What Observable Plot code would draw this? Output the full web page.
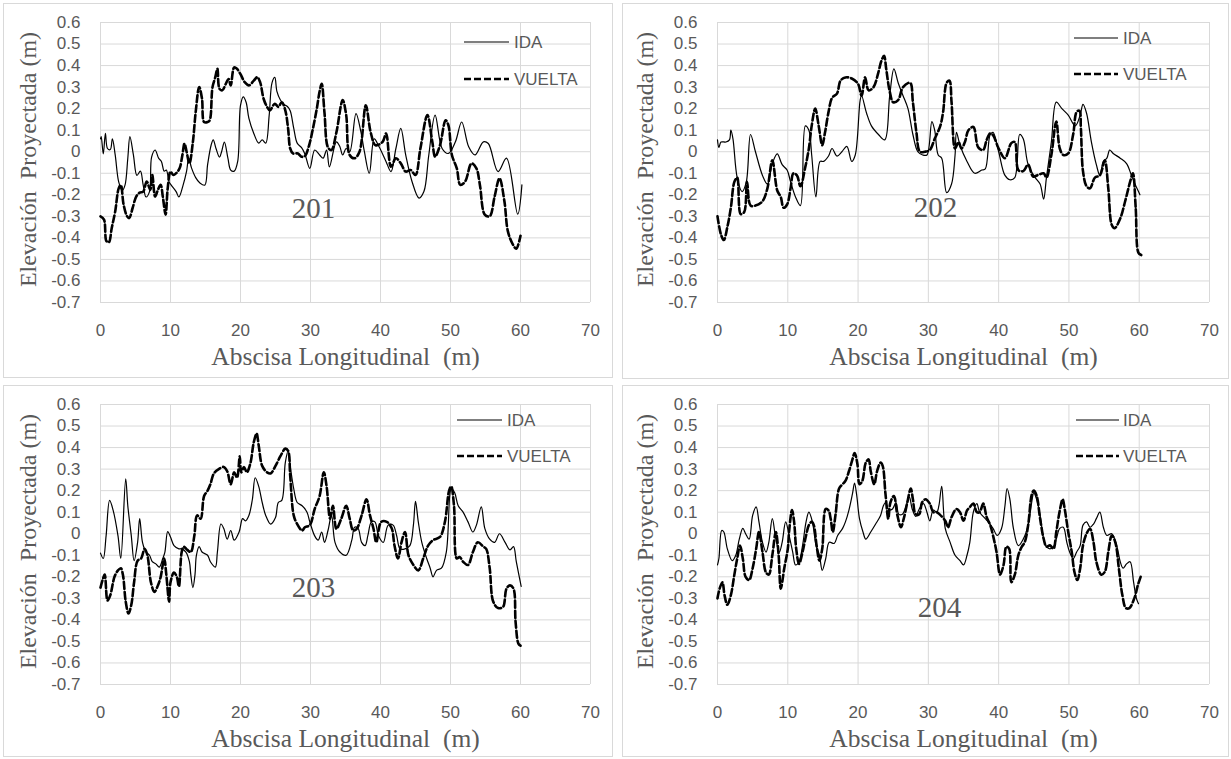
<!DOCTYPE html>
<html>
<head>
<meta charset="utf-8">
<script src="https://cdn.jsdelivr.net/npm/d3@7"></script>
<script src="https://cdn.jsdelivr.net/npm/@observablehq/plot@0.6"></script>
<style>
  body { margin: 0; background: #fff; }
  #page { position: relative; width: 1231px; height: 759px; overflow: hidden; background: #fff; }
  .frame { position: absolute; box-sizing: border-box; border: 1px solid #d9d9d9; }
  .chart { position: absolute; }
</style>
</head>
<body>
<div id="page"></div>
<script>
// ---------- tick values / labels ----------
const xTicks = [0, 10, 20, 30, 40, 50, 60, 70];
const yTicks = [-0.7, -0.6, -0.5, -0.4, -0.3, -0.2, -0.1, 0, 0.1, 0.2, 0.3, 0.4, 0.5, 0.6];
const seriesNames = ["IDA", "VUELTA"];
const panelLabels = ["201", "202", "203", "204"];
const xTitle = "Abscisa Longitudinal  (m)";
const yTitle = "Elevación  Proyectada (m)";

// ---------- series (abscisa m, elevación m) ----------
const ida201 = [[0,0.06],[0.1,0.07],[0.4,-0.01],[0.7,0.085],[1.0,0.015],[1.4,0.01],[1.7,0.06],[2.1,-0.015],[2.6,-0.14],[3.1,-0.18],[3.5,-0.155],[3.9,-0.03],[4.2,0.07],[4.7,-0.015],[5.2,-0.11],[5.7,-0.09],[6.1,-0.155],[6.5,-0.21],[7.0,-0.185],[7.3,-0.025],[7.8,0.008],[8.3,-0.03],[8.7,-0.045],[9.1,-0.09],[9.4,-0.085],[9.8,-0.14],[10.1,-0.155],[10.8,-0.185],[11.2,-0.21],[11.8,-0.155],[12.3,-0.09],[12.6,-0.03],[13.0,-0.075],[13.6,-0.12],[14.2,-0.145],[14.9,-0.155],[15.3,-0.06],[15.8,0.03],[16.1,0.055],[16.5,0.015],[17.0,-0.025],[17.3,0.0],[17.7,0.045],[18.2,-0.03],[18.6,-0.085],[19.1,-0.09],[19.6,-0.045],[20.0,0.215],[20.4,0.255],[20.8,0.23],[21.2,0.155],[21.9,0.085],[22.6,0.04],[23.1,0.055],[23.6,0.04],[24.1,0.17],[24.5,0.32],[24.9,0.345],[25.2,0.28],[25.7,0.24],[26.2,0.22],[26.7,0.21],[27.1,0.19],[27.6,0.11],[28.1,0.04],[28.7,0.02],[29.2,-0.01],[29.9,-0.077],[30.6,0.008],[31.3,-0.015],[31.8,-0.03],[32.3,0.008],[32.7,-0.07],[33.7,0.046],[34.2,0.023],[34.6,-0.015],[35.1,0.015],[35.6,0],[36.5,0.177],[37.2,0.092],[37.7,0.0],[38.4,-0.1],[39.1,0.06],[39.8,0.023],[40.8,-0.046],[41.5,-0.092],[42.2,0.015],[42.9,0.108],[43.6,-0.015],[44.5,-0.138],[45.5,-0.215],[46.2,-0.185],[46.9,-0.015],[47.8,0.17],[48.8,0.015],[49.7,-0.008],[50.7,0.046],[51.6,0.138],[52.6,0.023],[53.5,-0.015],[54.7,0.046],[55.4,0.038],[56.8,-0.092],[58.0,-0.03],[59.6,-0.29],[60.2,-0.154]];
const vuelta201 = [[0,-0.3],[0.5,-0.315],[0.85,-0.415],[1.2,-0.42],[1.6,-0.355],[2.1,-0.277],[2.6,-0.17],[2.9,-0.155],[3.3,-0.246],[3.8,-0.3],[4.1,-0.308],[4.6,-0.26],[5.1,-0.208],[5.6,-0.19],[6.1,-0.185],[6.6,-0.138],[7.1,-0.177],[7.4,-0.108],[7.8,-0.208],[8.2,-0.177],[8.6,-0.154],[8.9,-0.208],[9.3,-0.292],[9.6,-0.17],[10.0,-0.092],[10.4,-0.108],[10.8,-0.1],[11.3,-0.077],[11.7,-0.015],[12.0,0.038],[12.3,0.0],[12.7,-0.054],[13.2,0.046],[13.6,0.185],[14.1,0.3],[14.5,0.246],[14.8,0.138],[15.3,0.138],[15.6,0.146],[16.0,0.3],[16.4,0.346],[16.7,0.385],[17.0,0.292],[17.4,0.285],[17.9,0.315],[18.3,0.338],[18.6,0.308],[19.1,0.392],[19.5,0.385],[20.0,0.36],[20.6,0.323],[21.2,0.308],[21.9,0.33],[22.4,0.346],[22.8,0.323],[23.3,0.246],[23.8,0.208],[24.2,0.192],[24.9,0.223],[25.4,0.208],[25.9,0.23],[26.4,0.192],[26.8,0.108],[27.1,0.015],[27.5,-0.008],[28.2,-0.008],[28.7,-0.023],[29.2,-0.02],[29.8,0.03],[30.3,0.1],[30.9,0.2],[31.3,0.28],[31.6,0.315],[32.0,0.18],[32.5,0.02],[33.0,0.008],[33.7,0.09],[34.6,0.24],[35.1,0.17],[35.6,-0.015],[36.3,-0.03],[37.0,0.0],[37.9,0.215],[38.6,0.09],[39.3,0.03],[40.3,0.046],[40.8,0.085],[41.5,-0.07],[42.2,-0.03],[42.9,-0.054],[43.6,-0.092],[44.3,-0.085],[45.0,-0.108],[45.7,0.015],[46.7,0.17],[47.4,0.046],[47.8,-0.023],[48.5,0.03],[49.3,0.146],[49.7,0.123],[50.2,-0.015],[50.9,-0.077],[51.4,-0.154],[52.1,-0.138],[53.0,-0.054],[53.7,-0.077],[54.2,-0.154],[54.9,-0.292],[55.6,-0.3],[56.3,-0.208],[57.0,-0.123],[57.7,-0.23],[58.2,-0.37],[58.9,-0.43],[59.4,-0.45],[60.0,-0.39]];

const ida202 = [[0,0.055],[0.2,0.02],[0.5,0.045],[1.2,0.045],[1.7,0.055],[1.9,0.1],[2.2,0.06],[2.8,-0.12],[3.5,-0.185],[4.1,-0.14],[4.7,0.08],[5.4,0],[6.4,-0.11],[7.1,-0.15],[7.8,-0.055],[8.5,-0.01],[9.2,-0.06],[9.9,-0.085],[10.4,-0.14],[11.1,-0.21],[11.8,-0.25],[12.5,0.12],[13.0,0.1],[13.4,-0.015],[14.0,-0.21],[14.6,-0.045],[15.1,-0.045],[15.8,-0.02],[16.3,0.015],[17.0,-0.02],[17.7,0],[18.4,0.025],[19.1,-0.045],[19.6,-0.015],[20.3,0.24],[20.5,0.26],[21.2,0.18],[21.9,0.12],[22.9,0.08],[23.8,0.055],[24.5,0.26],[25.1,0.385],[25.7,0.32],[26.4,0.26],[27.1,0.2],[27.8,0.08],[28.5,0],[29.2,-0.015],[29.8,-0.015],[30.5,0.14],[30.9,0.1],[31.4,-0.015],[31.9,-0.03],[32.6,-0.19],[33.3,-0.15],[33.8,-0.015],[34.0,0.09],[34.5,0.03],[35.5,-0.045],[36.6,-0.1],[37.6,-0.085],[38.1,-0.08],[38.8,0.08],[39.2,0.09],[40,0],[40.9,-0.11],[41.6,-0.13],[42.3,-0.12],[43.0,0.08],[43.5,0.06],[44.2,-0.06],[45.2,-0.12],[45.9,-0.15],[46.4,-0.22],[46.8,-0.12],[47.5,0.045],[48.2,0.23],[49.0,0.2],[49.9,0.17],[50.9,0.12],[51.6,0.17],[52.0,0.22],[52.5,0.18],[53.2,0.045],[53.9,-0.06],[54.4,-0.11],[54.9,-0.045],[55.4,-0.03],[55.8,0.008],[56.3,-0.008],[57.3,-0.03],[58.2,-0.055],[58.9,-0.11],[59.4,-0.15],[59.9,-0.185],[60.1,-0.2]];
const vuelta202 = [[0,-0.3],[0.5,-0.385],[0.9,-0.41],[1.4,-0.35],[1.9,-0.26],[2.4,-0.14],[2.8,-0.12],[3.3,-0.29],[3.8,-0.28],[4.2,-0.14],[4.7,-0.25],[5.4,-0.25],[6.4,-0.23],[7.1,-0.17],[7.8,-0.04],[8.5,-0.18],[9.0,-0.21],[9.4,-0.26],[9.9,-0.245],[10.4,-0.17],[10.8,-0.1],[11.3,-0.11],[11.8,-0.16],[12.5,-0.07],[13.0,0.015],[13.4,0.12],[13.9,0.2],[14.4,0.12],[14.9,0.03],[15.3,0.09],[15.8,0.185],[16.3,0.25],[17.0,0.27],[17.5,0.33],[18.2,0.345],[19.1,0.34],[20.0,0.315],[20.5,0.26],[21.0,0.345],[21.5,0.285],[22.2,0.3],[22.9,0.37],[23.3,0.42],[23.7,0.445],[24.0,0.385],[24.5,0.28],[25.0,0.23],[25.7,0.24],[26.4,0.3],[27.4,0.32],[27.8,0.23],[28.3,0.09],[28.8,0.0],[29.5,0.0],[30.2,0.008],[30.9,0.06],[31.7,0.12],[32.1,0.185],[32.6,0.32],[33.0,0.33],[33.3,0.23],[33.8,0.015],[34.3,0.045],[34.7,0.015],[35.2,0.045],[35.7,0.1],[36.4,0.115],[37.1,0.02],[37.8,0.008],[38.3,0.055],[38.8,0.085],[39.2,0.077],[40.0,0.015],[40.9,-0.03],[41.8,0.04],[42.3,0.045],[42.8,-0.085],[43.5,-0.09],[44.2,-0.06],[44.9,-0.115],[45.6,-0.108],[46.4,-0.1],[46.8,-0.12],[47.5,-0.015],[48.2,0.14],[48.7,0.015],[49.2,-0.015],[49.9,-0.008],[50.6,0.08],[51.1,0.185],[51.5,0.19],[51.7,0.11],[52.0,-0.09],[52.5,-0.16],[53.0,-0.17],[53.7,-0.12],[54.4,-0.11],[55.1,-0.04],[55.6,-0.17],[56.1,-0.34],[56.5,-0.355],[57.3,-0.31],[58.0,-0.23],[58.7,-0.14],[59.1,-0.1],[59.5,-0.26],[59.9,-0.47],[60.3,-0.48]];

const ida203 = [[0,-0.09],[0.4,-0.115],[0.8,-0.01],[1.3,0.155],[1.8,0.11],[2.5,-0.01],[2.9,-0.115],[3.6,0.255],[3.9,0.13],[4.4,-0.01],[4.8,-0.125],[5.3,-0.04],[5.6,0.07],[6.0,-0.04],[6.5,-0.085],[7.0,-0.1],[7.4,-0.13],[7.9,-0.14],[8.4,-0.155],[8.9,-0.115],[9.2,-0.085],[9.6,0.01],[10.0,-0.015],[10.5,-0.055],[11.2,-0.07],[11.6,-0.07],[12.2,-0.085],[12.7,-0.13],[12.9,-0.19],[13.2,-0.25],[13.5,-0.19],[13.7,-0.1],[14.1,-0.06],[14.5,-0.085],[15.3,-0.1],[15.7,-0.13],[16.4,-0.155],[16.7,-0.085],[17.2,0.045],[17.6,0.025],[18.1,-0.025],[18.6,0.015],[19.1,-0.03],[19.8,0.008],[20.3,0.07],[20.7,0.06],[21.2,0.085],[21.7,0.16],[22.1,0.26],[22.6,0.22],[23.1,0.145],[23.6,0.085],[24.3,0.045],[25.0,0.075],[25.4,0.145],[25.9,0.155],[26.4,0.33],[26.8,0.385],[27.1,0.315],[27.6,0.21],[28.1,0.145],[28.8,0.13],[29.5,0.1],[29.9,0.055],[30.6,-0.01],[31.1,-0.03],[31.6,0.008],[32.0,-0.04],[32.5,0.015],[33.0,0.085],[33.5,-0.04],[34.2,-0.085],[35.1,-0.1],[35.9,-0.03],[36.3,0.03],[36.8,0.025],[37.3,-0.04],[37.8,-0.055],[38.2,-0.008],[38.7,0.055],[39.2,0.055],[39.7,-0.008],[40.4,-0.04],[41.1,0.04],[41.8,0.04],[42.3,-0.008],[42.8,-0.07],[43.5,-0.07],[44.2,-0.055],[44.7,0.04],[45.0,0.15],[45.4,0.055],[45.9,-0.04],[46.6,-0.115],[47.1,-0.16],[47.5,-0.2],[48.0,-0.17],[48.7,-0.16],[49.4,-0.085],[49.9,0.18],[50.1,0.21],[50.6,0.19],[51.1,0.13],[51.8,0.1],[52.5,0.055],[53.2,0.008],[53.7,0.04],[54.4,0.125],[54.9,0.025],[55.6,-0.025],[56.3,-0.04],[57.0,0.0],[57.8,-0.04],[58.5,-0.075],[59.0,-0.06],[59.4,-0.13],[60.1,-0.245]];
const vuelta203 = [[0,-0.25],[0.3,-0.215],[0.6,-0.19],[1.0,-0.31],[1.4,-0.285],[2.0,-0.2],[2.5,-0.17],[2.9,-0.16],[3.2,-0.19],[3.6,-0.315],[4.0,-0.37],[4.4,-0.33],[4.8,-0.225],[5.3,-0.125],[5.8,-0.115],[6.3,-0.07],[6.7,-0.1],[7.2,-0.225],[7.7,-0.27],[8.2,-0.24],[8.6,-0.2],[9.1,-0.115],[9.4,-0.19],[9.8,-0.315],[10.0,-0.225],[10.5,-0.18],[10.9,-0.2],[11.2,-0.245],[11.6,-0.085],[11.9,-0.06],[12.4,-0.075],[12.9,-0.085],[13.4,-0.01],[13.8,0.085],[14.3,0.07],[14.8,0.175],[15.3,0.2],[15.7,0.23],[16.2,0.28],[16.9,0.3],[17.6,0.31],[18.1,0.29],[18.6,0.23],[19.1,0.285],[19.5,0.26],[19.9,0.36],[20.1,0.285],[20.5,0.31],[20.9,0.285],[21.4,0.325],[21.9,0.425],[22.3,0.465],[22.6,0.41],[23.1,0.315],[23.8,0.285],[24.3,0.28],[25.0,0.315],[25.7,0.36],[26.4,0.395],[26.8,0.385],[27.1,0.27],[27.6,0.085],[28.1,0.045],[28.8,0.015],[29.2,0.03],[29.9,0.04],[30.6,0.115],[31.3,0.175],[31.9,0.285],[32.3,0.22],[32.8,0.07],[33.2,0.13],[33.7,0.023],[34.4,0.07],[35.1,0.13],[35.6,0.07],[36.1,0.015],[36.6,0.023],[37.3,0.085],[38.0,0.16],[38.5,0.085],[39.0,0.023],[39.4,-0.04],[40.1,0.055],[40.9,0.055],[41.6,0.025],[42.0,-0.055],[42.5,-0.115],[43.0,-0.04],[43.5,0.008],[44.0,-0.1],[44.7,-0.145],[45.4,-0.17],[46.1,-0.115],[46.8,-0.055],[47.5,-0.03],[48.5,-0.015],[49.2,0.055],[49.8,0.2],[50.1,0.22],[50.5,0.13],[50.9,-0.115],[51.3,-0.108],[51.8,-0.13],[52.5,-0.145],[53.2,-0.085],[53.9,-0.04],[54.7,-0.06],[55.1,-0.07],[55.6,-0.16],[56.1,-0.315],[56.8,-0.345],[57.5,-0.34],[58.0,-0.255],[58.5,-0.24],[59.0,-0.255],[59.3,-0.41],[59.7,-0.51],[60.0,-0.52]];

const ida204 = [[0,-0.145],[0.2,-0.115],[0.6,0.015],[0.9,0.008],[1.4,-0.07],[2.1,-0.125],[2.6,-0.1],[3.1,-0.025],[3.6,0.025],[4.0,0],[4.5,-0.025],[5.0,0.085],[5.5,0.125],[5.9,0.055],[6.4,-0.04],[6.9,-0.085],[7.3,-0.04],[7.8,0.07],[8.3,-0.025],[8.8,-0.085],[9.2,-0.04],[9.7,0.055],[10.2,-0.01],[10.7,-0.085],[11.1,-0.145],[11.6,-0.13],[12.1,-0.055],[12.6,0.055],[13.0,0.1],[13.5,0.055],[14.0,-0.05],[14.5,-0.1],[14.9,-0.17],[15.4,-0.115],[15.9,-0.04],[16.6,-0.045],[17.1,-0.008],[17.8,0.025],[18.2,0.055],[18.7,0.11],[19.2,0.185],[19.5,0.235],[19.8,0.18],[20.2,0.07],[20.7,0.008],[21.1,-0.025],[21.8,0.008],[22.5,0.045],[23.2,0.085],[23.6,0.13],[23.9,0.145],[24.4,0.11],[24.9,0.115],[25.4,0.145],[25.8,0.09],[26.3,0.09],[26.8,0.125],[27.3,0.17],[27.7,0.115],[28.2,0.08],[28.7,0.115],[29.3,0.14],[29.8,0.1],[30.2,0.06],[30.7,0.11],[31.2,0.1],[31.5,0.13],[31.9,0.22],[32.4,0.025],[33.1,-0.04],[33.8,-0.1],[34.5,-0.125],[35.0,-0.145],[35.5,-0.1],[35.9,-0.04],[36.4,0.1],[36.9,0.14],[37.3,0.1],[38.1,0.07],[38.5,0.055],[39.2,0.025],[39.8,-0.008],[40.4,0.023],[40.9,0.13],[41.2,0.21],[41.6,0.16],[42.1,0.025],[42.8,-0.055],[43.5,-0.025],[44.2,0.04],[44.7,0.145],[45.0,0.19],[45.4,0.16],[45.9,0.085],[46.4,-0.025],[46.8,-0.06],[47.3,-0.07],[47.8,-0.06],[48.2,-0.025],[48.7,0.025],[49.2,0.03],[49.7,-0.04],[50.1,-0.085],[50.6,-0.115],[51.1,-0.085],[51.6,-0.055],[52.0,0.04],[52.5,0.055],[53.0,0.03],[53.5,0.045],[53.9,0.07],[54.4,0.1],[54.9,0.03],[55.4,-0.008],[56.1,0.0],[56.8,-0.055],[57.3,-0.13],[57.7,-0.16],[58.2,-0.14],[58.7,-0.13],[59.2,-0.225],[59.6,-0.3],[59.9,-0.325]];
const vuelta204 = [[0,-0.3],[0.3,-0.255],[0.7,-0.225],[1.0,-0.285],[1.4,-0.33],[1.9,-0.285],[2.4,-0.19],[2.8,-0.115],[3.2,-0.055],[3.6,-0.115],[4.0,-0.2],[4.5,-0.215],[5.0,-0.16],[5.5,-0.07],[5.9,0.008],[6.4,-0.085],[6.9,-0.18],[7.3,-0.19],[7.8,-0.1],[8.3,0.008],[8.7,-0.1],[9.0,-0.255],[9.5,-0.16],[10.0,-0.07],[10.2,0.015],[10.6,0.11],[10.9,0.055],[11.2,-0.07],[11.6,-0.14],[12.1,-0.085],[12.6,-0.008],[13.0,0.04],[13.4,0.055],[13.7,0.04],[14.1,-0.055],[14.5,-0.125],[14.9,-0.07],[15.4,0.115],[15.8,0.108],[16.1,0.07],[16.4,0.008],[16.8,0.09],[17.3,0.21],[17.8,0.23],[18.2,0.245],[18.7,0.29],[19.2,0.345],[19.5,0.375],[19.9,0.325],[20.2,0.23],[20.6,0.245],[21.1,0.33],[21.5,0.345],[21.8,0.29],[22.3,0.23],[22.7,0.29],[23.2,0.33],[23.5,0.315],[23.9,0.185],[24.3,0.07],[24.6,0.145],[25.1,0.175],[25.6,0.085],[26.1,0.03],[26.5,0.07],[27.0,0.145],[27.5,0.21],[27.8,0.16],[28.2,0.09],[28.7,0.09],[29.1,0.145],[29.6,0.16],[30.2,0.14],[30.7,0.1],[31.2,0.1],[31.6,0.09],[32.4,0.06],[32.8,0.03],[33.3,0.077],[34.0,0.115],[34.5,0.1],[35.0,0.06],[35.5,0.108],[35.9,0.123],[36.4,0.14],[36.9,0.1],[37.3,0.1],[37.8,0.14],[38.3,0.077],[38.8,0.04],[39.2,-0.008],[39.7,-0.085],[40.2,-0.19],[40.7,-0.145],[41.1,-0.06],[41.5,-0.07],[41.8,-0.225],[42.3,-0.19],[42.8,-0.1],[43.3,-0.06],[43.7,-0.04],[44.2,0.04],[44.7,0.18],[45.0,0.2],[45.4,0.177],[45.9,0.07],[46.4,-0.023],[46.8,-0.06],[47.3,-0.054],[47.8,-0.07],[48.2,0.008],[48.7,0.108],[49.1,0.16],[49.4,0.115],[49.9,0.008],[50.4,-0.085],[50.8,-0.18],[51.2,-0.215],[51.6,-0.16],[52.0,-0.054],[52.5,0.0],[53.0,0.023],[53.5,-0.04],[53.9,-0.13],[54.6,-0.19],[55.1,-0.177],[55.6,-0.085],[56.1,-0.008],[56.6,-0.04],[57.1,-0.16],[57.6,-0.285],[58.1,-0.345],[58.6,-0.345],[59.3,-0.3],[59.8,-0.24],[60.2,-0.2]];

// ---------- layout (page pixels) ----------
const layout = [
  { label: panelLabels[0], ida: ida201, vuelta: vuelta201, box: [3, 3, 610, 375],   m: [19, 23, 76, 97], legend: [461, 506, 511, 39, 76], num: [-32, 46] },
  { label: panelLabels[1], ida: ida202, vuelta: vuelta202, box: [622, 3, 607, 376], m: [19, 20, 77, 95], legend: [452, 496, 501, 35, 71], num: [-28, 45] },
  { label: panelLabels[2], ida: ida203, vuelta: vuelta203, box: [3, 385, 610, 372], m: [19, 23, 73, 97], legend: [454, 499, 504, 35, 71], num: [-32, 43] },
  { label: panelLabels[3], ida: ida204, vuelta: vuelta204, box: [622, 385, 607, 372], m: [19, 20, 73, 95], legend: [454, 497, 501, 35, 71], num: [-24, 63] }
];

const textColor = "#595959";
const gridColor = "#d9d9d9";
const sans = "'Liberation Sans', Arial, sans-serif";
const serif = "'Liberation Serif', 'Times New Roman', serif";
const page = document.getElementById("page");

for (const p of layout) {
  const [bx, by, bw, bh] = p.box;
  const frame = document.createElement("div");
  frame.className = "frame";
  Object.assign(frame.style, { left: bx + "px", top: by + "px", width: bw + "px", height: bh + "px" });
  page.appendChild(frame);

  const chart = Plot.plot({
    width: bw,
    height: bh,
    marginTop: p.m[0],
    marginRight: p.m[1],
    marginBottom: p.m[2],
    marginLeft: p.m[3],
    style: { fontFamily: sans, fontSize: "17px", color: textColor, background: "transparent", overflow: "visible", maxWidth: "none" },
    x: { domain: [0, 70], ticks: xTicks, tickSize: 0, tickPadding: 21, label: null },
    y: { domain: [-0.7, 0.6], ticks: yTicks, tickSize: 0, tickPadding: 20, label: null,
         tickFormat: d => (Math.abs(d) < 1e-9 ? "0" : d.toFixed(1)) },
    marks: [
      Plot.ruleX(xTicks, { stroke: gridColor, strokeWidth: 1 }),
      Plot.ruleY(yTicks, { stroke: gridColor, strokeWidth: 1 }),
      Plot.line(p.ida, { x: d => d[0], y: d => d[1], stroke: "#000", strokeWidth: 1.2, curve: "catmull-rom" }),
      Plot.line(p.vuelta, { x: d => d[0], y: d => d[1], stroke: "#000", strokeWidth: 2.6, strokeDasharray: "7,3", curve: "catmull-rom" }),
      Plot.text([p.label], { frameAnchor: "middle", dx: p.num[0], dy: p.num[1], fontFamily: serif, fontSize: 29, fill: textColor }),
      Plot.text([xTitle], { frameAnchor: "bottom", dy: 54, lineAnchor: "middle", fontFamily: serif, fontSize: 25.5, fill: textColor }),
      Plot.text([yTitle], { frameAnchor: "left", textAnchor: "middle", lineAnchor: "middle", dx: -72, dy: -3, rotate: -90, fontFamily: serif, fontSize: 24, fill: textColor })
    ]
  });

  // legend
  const [lx1, lx2, tx, y1, y2] = p.legend;
  const svg = d3.select(chart);
  const lg = svg.append("g").attr("font-family", sans).attr("font-size", 17).attr("fill", textColor).attr("text-anchor", "start");
  lg.append("line").attr("x1", lx1).attr("x2", lx2).attr("y1", y1).attr("y2", y1).attr("stroke", "#000").attr("stroke-width", 1.2);
  lg.append("line").attr("x1", lx1).attr("x2", lx2).attr("y1", y2).attr("y2", y2).attr("stroke", "#000").attr("stroke-width", 2.6).attr("stroke-dasharray", "7,3");
  lg.append("text").attr("x", tx).attr("y", y1).attr("dy", "0.35em").attr("text-anchor", "start").text(seriesNames[0]);
  lg.append("text").attr("x", tx).attr("y", y2).attr("dy", "0.35em").attr("text-anchor", "start").text(seriesNames[1]);

  const wrap = document.createElement("div");
  wrap.className = "chart";
  Object.assign(wrap.style, { left: bx + "px", top: by + "px", width: bw + "px", height: bh + "px" });
  wrap.appendChild(chart);
  page.appendChild(wrap);
}
</script>
</body>
</html>
